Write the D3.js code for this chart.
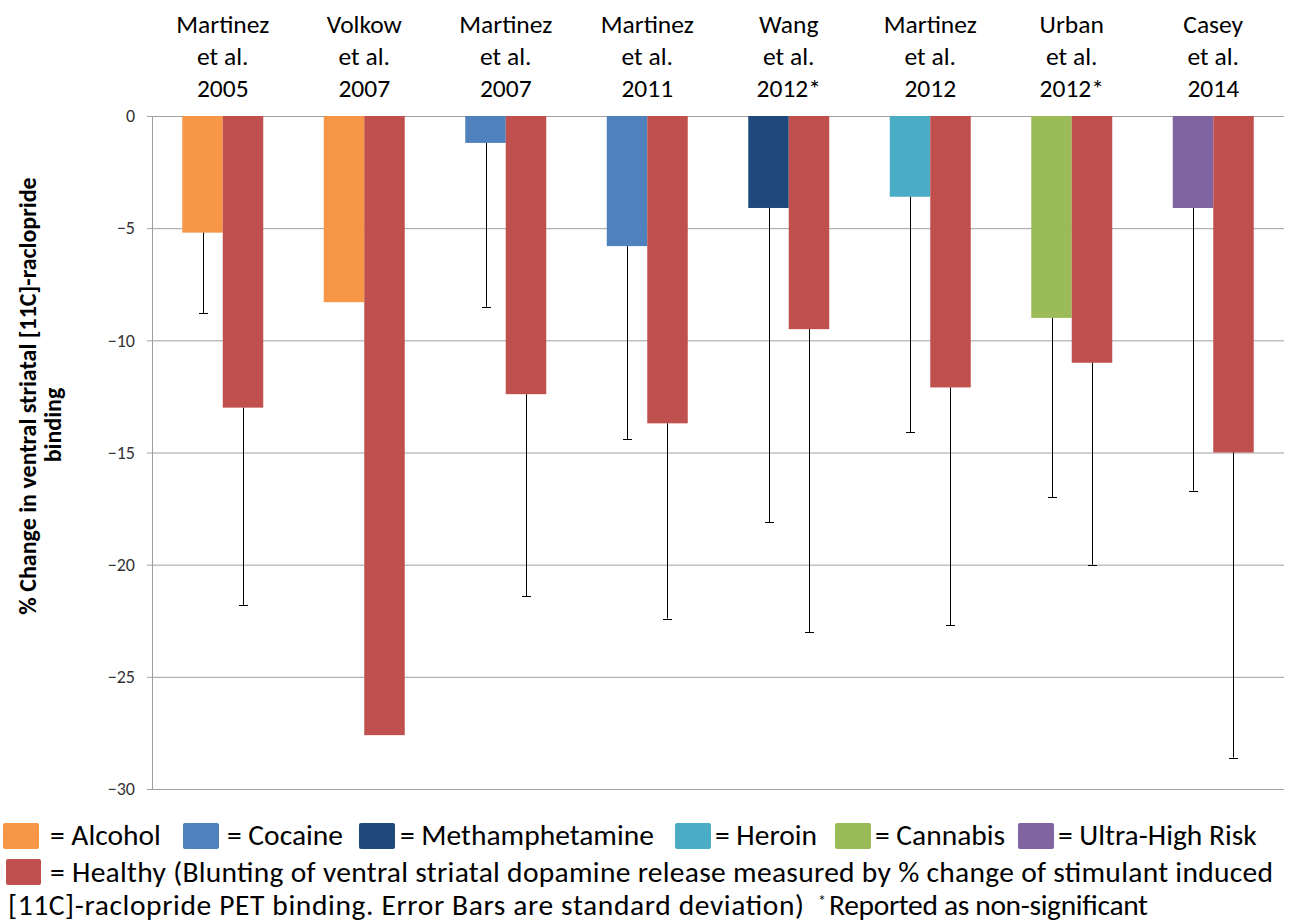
<!DOCTYPE html>
<html>
<head>
<meta charset="utf-8">
<script src="https://cdn.jsdelivr.net/npm/d3@7"></script>
<style>
  body { margin: 0; background: #fff; }
  svg { display: block; font-family: Carlito, Lato, sans-serif; }
</style>
</head>
<body>
<svg id="chart" width="1294" height="922"></svg>
<script>
// studies along the top
const authors = ["Martinez", "Volkow", "Martinez", "Martinez", "Wang", "Martinez", "Urban", "Casey"];
const years = ["2005", "2007", "2007", "2011", "2012*", "2012", "2012*", "2014"];

// clinical group: substance, mean % change, SD (minus only)
const groupType = ["Alcohol", "Alcohol", "Cocaine", "Cocaine", "Methamphetamine", "Heroin", "Cannabis", "Ultra-High Risk"];
const groupValues = [-5.2, -8.3, -1.2, -5.8, -4.1, -3.6, -9.0, -4.1];
const groupSD = [3.6, null, 7.3, 8.6, 14.0, 10.5, 8.0, 12.6];

// healthy controls
const healthyValues = [-13.0, -27.6, -12.4, -13.7, -9.5, -12.1, -11.0, -15.0];
const healthySD = [8.8, null, 9.0, 8.7, 13.5, 10.6, 9.0, 13.6];

const yTicks = [0, -5, -10, -15, -20, -25, -30];

const legendNames = ["Alcohol", "Cocaine", "Methamphetamine", "Heroin", "Cannabis", "Ultra-High Risk"];
const legendColors = ["#F79646", "#4F81BD", "#1F497D", "#4BACC6", "#9BBB59", "#8064A2"];
const healthyColor = "#C0504D";

const svg = d3.select("#chart");
const margin = { top: 116, right: 10, bottom: 133, left: 152 };
const width = 1294, height = 922;
const plotRight = 1284;

const color = d3.scaleOrdinal().domain(legendNames).range(legendColors);

const x = d3.scaleBand()
  .domain(d3.range(authors.length))
  .range([margin.left, plotRight])
  .paddingInner(0.4276)
  .paddingOuter(0.2138);

const x1 = d3.scaleBand().domain(["g", "h"]).range([0, x.bandwidth()]);

const y = d3.scaleLinear().domain([-30, 0]).range([height - margin.bottom, margin.top]);

// gridlines
svg.append("g")
  .attr("transform", `translate(${margin.left},0)`)
  .call(d3.axisLeft(y).tickValues(yTicks).tickSize(-(plotRight - margin.left)).tickFormat(""))
  .call(g => g.select(".domain").remove())
  .call(g => g.selectAll(".tick line").attr("stroke", "#a0a0a0"));

// y axis with small outside ticks
svg.append("g")
  .attr("transform", `translate(${margin.left},0)`)
  .call(d3.axisLeft(y).tickValues(yTicks).tickSize(5).tickSizeOuter(0).tickPadding(12))
  .call(g => g.select(".domain").attr("stroke", "#a0a0a0"))
  .call(g => g.selectAll(".tick line").attr("stroke", "#a0a0a0"))
  .call(g => g.selectAll(".tick text")
    .attr("fill", "#333")
    .style("font-size", "18px")
    .style("font-family", "Carlito, Lato, sans-serif"));

const rows = authors.map((a, i) => ({
  i,
  g: { key: "g", v: groupValues[i], sd: groupSD[i], c: color(groupType[i]) },
  h: { key: "h", v: healthyValues[i], sd: healthySD[i], c: healthyColor }
}));

const bars = rows.flatMap(r => [r.g, r.h].map(d => ({ ...d, i: r.i })));

// bars
svg.append("g")
  .selectAll("rect")
  .data(bars)
  .join("rect")
  .attr("x", d => x(d.i) + x1(d.key))
  .attr("y", y(0))
  .attr("width", x1.bandwidth())
  .attr("height", d => y(d.v) - y(0))
  .attr("fill", d => d.c);

// error bars (minus direction only)
const errs = bars.filter(d => d.sd != null);
const cx = d => x(d.i) + x1(d.key) + x1.bandwidth() / 2;
const eg = svg.append("g").attr("stroke", "#000").attr("stroke-width", 1);
eg.selectAll("line.stem")
  .data(errs)
  .join("line")
  .attr("class", "stem")
  .attr("x1", d => Math.round(cx(d)) + 0.5)
  .attr("x2", d => Math.round(cx(d)) + 0.5)
  .attr("y1", d => y(d.v))
  .attr("y2", d => y(d.v - d.sd));
eg.selectAll("line.cap")
  .data(errs)
  .join("line")
  .attr("class", "cap")
  .attr("x1", d => Math.round(cx(d)) - 4)
  .attr("x2", d => Math.round(cx(d)) + 5)
  .attr("y1", d => Math.round(y(d.v - d.sd)) + 0.5)
  .attr("y2", d => Math.round(y(d.v - d.sd)) + 0.5);

// study labels on top
const lab = svg.append("g")
  .attr("text-anchor", "middle")
  .style("font-size", "25.5px")
  .attr("fill", "#000");
rows.forEach(r => {
  const t = lab.append("text");
  [authors[r.i], "et al.", years[r.i]].forEach((s, k) => {
    t.append("tspan").attr("x", x(r.i) + x.bandwidth() / 2).attr("y", 33 + k * 32).text(s);
  });
});

// y title
const yt = svg.append("g").style("font-size", "24px").style("font-weight", "bold").attr("text-anchor", "middle");
yt.append("text")
  .attr("transform", "translate(36,396) rotate(-90)")
  .text("% Change in ventral striatal [11C]-raclopride");
yt.append("text")
  .attr("transform", "translate(61,425) rotate(-90)")
  .text("binding");

// legend
const legendX = [3, 183, 359, 675, 835, 1018];
const textGap = [11, 8, 5, 4, 4, 4];
const leg = svg.append("g").style("font-size", "29.5px");
legendNames.forEach((n, k) => {
  leg.append("rect")
    .attr("x", legendX[k]).attr("y", 823)
    .attr("width", 36).attr("height", 26)
    .attr("rx", 2)
    .attr("fill", legendColors[k]);
  leg.append("text")
    .attr("x", legendX[k] + 36 + textGap[k]).attr("y", 845)
    .text("= " + n);
});
leg.append("rect")
  .attr("x", 6).attr("y", 859)
  .attr("width", 35).attr("height", 26)
  .attr("rx", 2)
  .attr("fill", healthyColor);
leg.append("text")
  .attr("x", 50).attr("y", 882)
  .attr("textLength", 1223).attr("lengthAdjust", "spacing")
  .text("= Healthy (Blunting of ventral striatal dopamine release measured by % change of stimulant induced");
leg.append("text")
  .attr("x", 8).attr("y", 915)
  .attr("textLength", 796).attr("lengthAdjust", "spacing")
  .text("[11C]-raclopride PET binding. Error Bars are standard deviation)");
leg.append("text")
  .attr("x", 818).attr("y", 906)
  .style("font-size", "16px")
  .text("*");
leg.append("text")
  .attr("x", 829).attr("y", 915)
  .attr("textLength", 319).attr("lengthAdjust", "spacing")
  .text("Reported as non-significant");
</script>
</body>
</html>
